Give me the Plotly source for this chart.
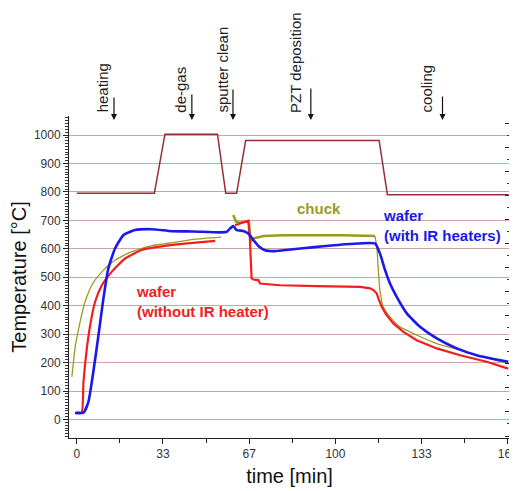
import plotly.graph_objects as go

# ---------------- data ----------------
setpoint_t = [0, 30, 34.1, 54.4, 57.6, 61.8, 65.3, 116.9, 120.1, 167]
setpoint_T = [795, 795, 1003, 1003, 795, 795, 981, 981, 790, 790]

blue_t = [-0.7, 2.6, 4.5, 6.4, 8.4, 10.3, 12.2, 14.8, 18, 22.5, 29, 36.8, 45, 55.4, 58,
          59.3, 60.5, 61.8, 64.4, 66.3, 68.3, 70.2, 72.8, 76, 79.9, 92.8, 105.6, 115.3,
          117.2, 119.2, 121.1, 123.7, 127.6, 132.7, 139.2, 146.9, 154.6, 166.8]
blue_T = [23, 24, 62, 167, 297, 425, 531, 601, 648, 666, 669, 662, 661, 658, 660,
          672, 680, 666, 663, 654, 631, 610, 595, 592, 595, 607, 617, 619,
          584, 525, 478, 431, 373, 326, 285, 250, 226, 203]

red_heat_t = [0, 1.9, 2.6, 3.9, 5.2, 7.1, 9.7, 13.5, 18.7, 25.1, 31.5, 38, 45, 53.5]
red_heat_T = [25, 25, 132, 250, 332, 414, 472, 519, 566, 596, 607, 615, 621, 628]

red_dep_t = [61.2, 63.1, 65.7, 66.3, 66.9, 67.2, 67.6, 68.3, 70.2, 70.9, 78.6, 92.8,
             109.6, 113.4, 114.7, 115.3, 116.0, 116.6, 117.9, 119.8, 122.4, 126.3,
             131.4, 139.2, 148.2, 158.5, 166.8]
red_dep_T = [683, 689, 695, 699, 640, 560, 496, 492, 490, 478, 472, 469,
             466, 461, 455, 449, 443, 426, 396, 367, 338, 308,
             279, 250, 226, 203, 179]

chuck_heat_t = [-1.9, -1.3, -0.7, 0.3, 1.3, 2.2, 3.2, 4.5, 5.8, 7.7, 9.7, 12, 14.8,
                18, 21.3, 25, 29, 38, 45, 55.8]
chuck_heat_T = [150, 200, 250, 300, 343, 380, 414, 446, 472, 498, 519, 540, 560,
                576, 590, 601, 611, 623, 633, 641]

chuck_dep_t = [60.5, 61.6, 63, 65.7, 66.5, 66.9, 67.3, 68.3, 72.2, 79.9, 103, 115.3]
chuck_dep_T = [719, 695, 692, 695, 697, 660, 625, 637, 645, 648, 648, 645]

chuck_cool_t = [115.3, 116.0, 116.6, 117.2, 118.5, 121.1, 125, 131.4, 139.2, 148.2,
                157.2, 166.8]
chuck_cool_T = [645, 607, 525, 455, 396, 361, 326, 297, 267, 244, 220, 197]

x_tickvals = [0, 33.33, 66.67, 100, 133.33, 166.67]
x_ticktext = ["0", "33", "67", "100", "133", "167"]

step_labels = ["heating", "de-gas", "sputter clean", "PZT deposition", "cooling"]
step_label_t = [9.8, 40.3, 56.5, 84.3, 135.3]
step_arrow_t = [14.4, 44.5, 60.4, 90.5, 141.4]
step_arrow_len = [24, 27, 32, 33, 25]

# ---------------- figure ----------------
BLUE = "rgb(25,25,235)"
RED = "rgb(240,30,30)"
OLIVE = "rgb(155,155,35)"
SETP = "rgb(150,45,55)"
FONT = "Liberation Sans, Arial"

fig = go.Figure()
fig.add_trace(go.Scatter(x=setpoint_t, y=setpoint_T, mode="lines",
                         line=dict(color=SETP, width=1.5)))
fig.add_trace(go.Scatter(x=chuck_heat_t, y=chuck_heat_T, mode="lines",
                         line=dict(color=OLIVE, width=1.3, shape="spline", smoothing=0.6)))
fig.add_trace(go.Scatter(x=chuck_dep_t, y=chuck_dep_T, mode="lines",
                         line=dict(color=OLIVE, width=2.5)))
fig.add_trace(go.Scatter(x=chuck_cool_t, y=chuck_cool_T, mode="lines",
                         line=dict(color=OLIVE, width=1.3, shape="spline", smoothing=0.6)))
fig.add_trace(go.Scatter(x=red_heat_t, y=red_heat_T, mode="lines",
                         line=dict(color=RED, width=2.2, shape="spline", smoothing=0.5)))
fig.add_trace(go.Scatter(x=red_dep_t, y=red_dep_T, mode="lines",
                         line=dict(color=RED, width=2.2)))
fig.add_trace(go.Scatter(x=blue_t, y=blue_T, mode="lines",
                         line=dict(color=BLUE, width=2.6, shape="spline", smoothing=0.5)))
# dummy trace to show the right-hand tick axis
fig.add_trace(go.Scatter(x=[None], y=[None], yaxis="y2", hoverinfo="skip"))

annotations = []
for lab, lt, at, ln in zip(step_labels, step_label_t, step_arrow_t, step_arrow_len):
    annotations.append(dict(x=lt, xref="x", y=1.004, yref="paper", text=lab,
                            textangle=-90, showarrow=False, xanchor="center",
                            yanchor="bottom",
                            font=dict(family=FONT, size=15, color="#222")))
    annotations.append(dict(x=at, xref="x", y=0.9876, yref="paper", text="",
                            showarrow=True, ax=0, ay=-ln, arrowhead=2, arrowsize=1,
                            arrowwidth=1.2, arrowcolor="#111", standoff=0))

annotations += [
    dict(x=93.5, y=742, xref="x", yref="y", text="<b>chuck</b>", showarrow=False,
         font=dict(family=FONT, size=15, color=OLIVE)),
    dict(x=117.5, y=683, xref="x", yref="y", text="<b>wafer<br>(with IR heaters)</b>",
         showarrow=False, xanchor="left", align="left",
         font=dict(family=FONT, size=15, color=BLUE)),
    dict(x=22, y=416, xref="x", yref="y", text="<b>wafer<br>(without IR heater)</b>",
         showarrow=False, xanchor="left", align="left",
         font=dict(family=FONT, size=15, color=RED)),
]

# page body has an 8px margin, so the figure is sized/offset to compensate
fig.update_layout(
    width=509, height=483,
    margin=dict(l=61, r=7, t=108, b=53, autoexpand=False),
    paper_bgcolor="white", plot_bgcolor="white",
    showlegend=False,
    font=dict(family=FONT, color="#333"),
    annotations=annotations,
    xaxis=dict(range=[-3, 167.5], tickvals=x_tickvals, ticktext=x_ticktext,
               ticks="outside", ticklen=5, tickcolor="#222", showline=True,
               linecolor="#222", linewidth=1, showgrid=False, zeroline=False,
               automargin=False, ticklabeloverflow="allow",
               minor=dict(tickvals=[16.67, 50, 83.33, 116.67, 150], ticks="outside",
                          ticklen=4, tickcolor="#222"),
               tickfont=dict(size=12, color="#333"),
               title=dict(text="time [min]", font=dict(size=20, color="#111"), standoff=8)),
    yaxis=dict(range=[-65, 1067], tickmode="linear", tick0=0, dtick=100,
               ticks="outside", ticklen=5, tickcolor="#222", showline=True,
               linecolor="#222", linewidth=1, showgrid=True,
               gridcolor="rgb(205,165,165)", gridwidth=1, zeroline=False,
               automargin=False,
               minor=dict(dtick=10, ticks="outside", ticklen=3, tickcolor="#333",
                          showgrid=False),
               tickfont=dict(size=12, color="#333"),
               title=dict(text="Temperature [°C]", font=dict(size=20, color="#111"), standoff=6)),
    yaxis2=dict(overlaying="y", side="right", range=[-1.083, 12.32], dtick=1, tick0=0,
                ticks="inside", ticklen=5, tickcolor="#222", showticklabels=False,
                showline=True, linecolor="#222", showgrid=False, zeroline=False,
                automargin=False,
                minor=dict(dtick=0.5, ticks="inside", ticklen=3, tickcolor="#333")),
)

fig.write_html("out.html")
